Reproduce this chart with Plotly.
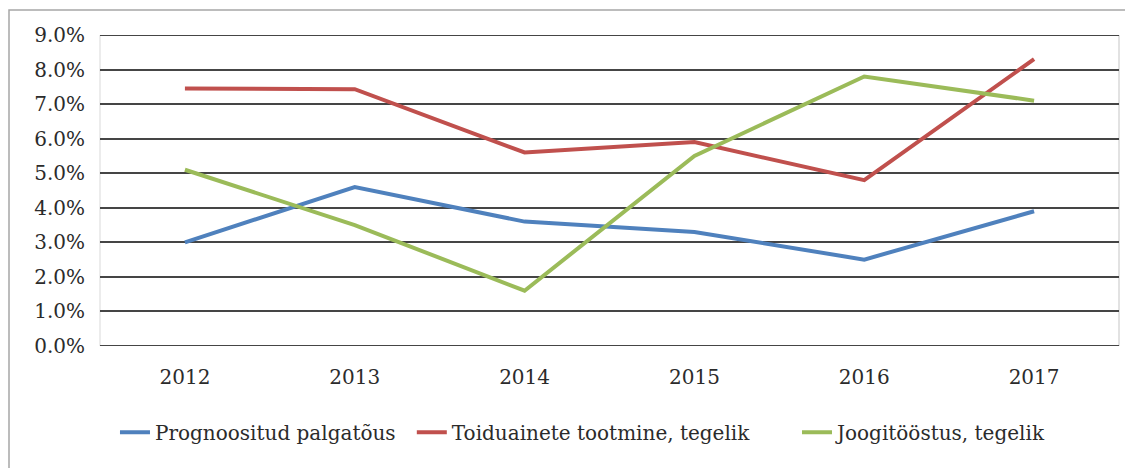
import plotly.graph_objects as go

years = ["2012", "2013", "2014", "2015", "2016", "2017"]
prognoositud = [3.0, 4.6, 3.6, 3.3, 2.5, 3.9]
toiduainete = [7.45, 7.43, 5.6, 5.9, 4.8, 8.3]
joogitoostus = [5.1, 3.5, 1.6, 5.5, 7.8, 7.1]
y_ticks = [0, 1, 2, 3, 4, 5, 6, 7, 8, 9]
y_tick_labels = [f"{v:.1f}%" for v in y_ticks]

series = [
    ("Prognoositud palgatõus", prognoositud, "#4F81BD", "legend"),
    ("Toiduainete tootmine, tegelik", toiduainete, "#C0504D", "legend2"),
    ("Joogitööstus, tegelik", joogitoostus, "#9BBB59", "legend3"),
]

fig = go.Figure()
for name, vals, color, leg in series:
    fig.add_trace(go.Scatter(x=years, y=vals, name=name, mode="lines",
                             line=dict(color=color, width=4), legend=leg))

font_family = "DejaVu Serif"
text_color = "#2b2b2b"
grid_color = "#454545"
leg_common = dict(orientation="h", y=-0.215, yanchor="top", xanchor="left",
                  font=dict(family=font_family, size=20, color=text_color),
                  itemwidth=30, bgcolor="rgba(0,0,0,0)")

# edge gridlines (plotly hides gridlines lying on the plot-area edges)
edge_lines = [
    dict(type="line", xref="paper", yref="y", x0=0, x1=1, y0=v, y1=v,
         line=dict(color=grid_color, width=2), layer="below")
    for v in (y_ticks[0], y_ticks[-1])
]

fig.update_layout(
    width=1125, height=460,
    margin=dict(l=92, r=14, t=27, b=122),
    paper_bgcolor="white", plot_bgcolor="white",
    font=dict(family=font_family, size=20, color=text_color),
    showlegend=True,
    legend=dict(x=0.0147, **leg_common),
    legend2=dict(x=0.306, **leg_common),
    legend3=dict(x=0.684, **leg_common),
    xaxis=dict(type="category", range=[-0.5, 5.5], showgrid=False,
               zeroline=False, showline=False,
               ticks="outside", ticklen=13, tickcolor="rgba(0,0,0,0)",
               tickfont=dict(family=font_family, size=20, color=text_color)),
    yaxis=dict(range=[0, 9], tickvals=y_ticks, ticktext=y_tick_labels,
               showgrid=True, gridcolor=grid_color, gridwidth=2,
               zeroline=False, showline=False,
               ticks="outside", ticklen=10, tickcolor="rgba(0,0,0,0)",
               tickfont=dict(family=font_family, size=20, color=text_color)),
    shapes=[
        dict(type="rect", xref="paper", yref="paper",
             x0=-0.0893, x1=1.03, y0=-0.45, y1=1.0804,
             line=dict(color="#a6a6a6", width=1.5), layer="below"),
        dict(type="line", xref="paper", yref="paper", x0=0, x1=0, y0=0, y1=1,
             line=dict(color="#d9d9d9", width=1), layer="below"),
        dict(type="line", xref="paper", yref="paper", x0=1, x1=1, y0=0, y1=1,
             line=dict(color="#d9d9d9", width=1.5), layer="below"),
    ] + edge_lines,
)

fig.write_html("out.html")
